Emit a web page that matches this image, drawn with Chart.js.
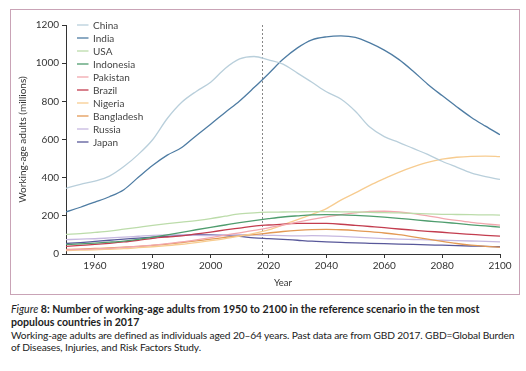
<!DOCTYPE html>
<html><head><meta charset="utf-8">
<script src="https://cdn.jsdelivr.net/npm/chart.js@4"></script>
<style>
html,body{margin:0;padding:0;background:#fff;width:526px;height:371px;overflow:hidden;}
#frame{position:absolute;left:10px;top:9px;width:508px;height:284px;border:1px solid #c9a3b6;}
#wrap{position:absolute;left:0;top:0;width:526px;height:300px;}
#cap{position:absolute;left:11px;top:303px;width:514px;font-family:Lato,"Open Sans",sans-serif;color:#222;line-height:12.5px;}
#cap .t{font-weight:bold;font-size:10.6px;}
#cap .b{font-size:10.2px;letter-spacing:-0.13px;margin-top:0.5px;}
</style></head><body>
<div id="frame"></div>
<div id="wrap"><canvas id="c" width="526" height="300"></canvas></div>
<div id="cap"><div class="t"><i style="font-weight:normal">Figure</i> 8: Number of working-age adults from 1950 to 2100 in the reference scenario in the ten most populous countries in 2017</div><div class="b">Working-age adults are defined as individuals aged 20–64 years. Past data are from GBD 2017. GBD=Global Burden of Diseases, Injuries, and Risk Factors Study.</div></div>
<script>
const years = [1950,1955,1960,1965,1970,1975,1980,1985,1990,1995,2000,2005,2010,2015,2020,2025,2030,2035,2040,2045,2050,2055,2060,2065,2070,2075,2080,2085,2090,2095,2100];
const countries = ["China","India","USA","Indonesia","Pakistan","Brazil","Nigeria","Bangladesh","Russia","Japan"];
const china = [344,365,382,408,458,522,600,710,795,852,900,972,1022,1035,1017,995,948,900,850,812,748,665,615,585,553,522,486,455,425,405,391];
const india = [221,245,272,300,337,402,465,518,558,620,680,742,802,872,945,1020,1080,1122,1138,1143,1135,1106,1068,1020,958,890,830,772,717,670,625];
const usa = [103,107,113,120,130,140,150,159,167,175,185,198,210,216,219,220,221,222,222,221,220,218,217,215,213,210,208,207,206,205,204];
const indonesia = [50,53,57,62,68,77,88,100,113,127,140,152,164,175,185,194,200,205,206,205,202,198,193,187,180,173,167,160,153,147,141];
const pakistan = [22,24,27,30,35,40,46,54,63,74,86,99,111,124,137,152,167,181,194,206,216,223,224,220,212,200,187,176,166,158,151];
const brazil = [40,45,50,56,63,72,82,89,95,105,115,126,136,146,152,157,160,161,160,156,150,144,138,131,125,119,114,108,103,98,94];
const nigeria = [18,20,22,25,28,33,38,44,51,60,70,81,94,108,126,152,180,208,238,282,320,360,395,428,456,480,497,507,512,513,510];
const bangladesh = [24,26,29,32,36,40,45,52,60,69,78,87,95,102,110,118,124,128,129,127,123,117,110,101,90,78,66,55,46,40,36];
const russia = [75,78,80,84,88,93,98,100,100,98,97,100,102,100,98,96,95,96,95,92,88,84,81,78,76,74,72,70,68,66,64];
const japan = [55,60,66,72,78,83,88,93,98,101,100,97,92,85,81,77,72,67,64,61,58,56,54,52,50,48,46,44,42,40,38];
const seriesValues = [china,india,usa,indonesia,pakistan,brazil,nigeria,bangladesh,russia,japan];
const colors = ["#b9cfdb","#4e7ca3","#bcdcaa","#4f9d6e","#f2a7ae","#c33d4f","#f7cc90","#e39a55","#c6b8e0","#58589a"];
const xTicks = [1960,1980,2000,2020,2040,2060,2080,2100];
const yTicks = [0,200,400,600,800,1000,1200];
const projectionStart = 2017.6;

const FONT = 'Lato, "Open Sans", sans-serif';
const datasets = countries.map((name,i)=>({
  label:name,
  data: years.map((y,j)=>({x:y,y:seriesValues[i][j]})),
  borderColor: colors[i],
  backgroundColor: colors[i],
  borderWidth: 1.3,
  pointRadius: 0,
  cubicInterpolationMode: 'monotone',
  fill:false
}));
const legendPlugin = {
  id:'customLegend',
  afterDraw(chart){
    const ctx = chart.ctx;
    ctx.save();
    ctx.font = '10px ' + FONT;
    ctx.textBaseline = 'middle';
    chart.data.datasets.forEach((ds,i)=>{
      const y = 25 + i*13.0;
      ctx.strokeStyle = ds.borderColor;
      ctx.lineWidth = 1.3;
      ctx.beginPath(); ctx.moveTo(77,y); ctx.lineTo(88.5,y); ctx.stroke();
      ctx.fillStyle = '#444';
      ctx.fillText(ds.label, 93, y+0.5);
    });
    ctx.restore();
  }
};
const dashPlugin = {
  id:'dash',
  beforeDatasetsDraw(chart){
    const x = chart.scales.x.getPixelForValue(projectionStart);
    const yt = chart.scales.y.getPixelForValue(1200);
    const yb = chart.scales.y.getPixelForValue(0);
    const ctx = chart.ctx;
    ctx.save();
    ctx.strokeStyle = '#888';
    ctx.lineWidth = 1;
    ctx.setLineDash([2,2]);
    ctx.beginPath(); ctx.moveTo(Math.round(x)+0.5,yt); ctx.lineTo(Math.round(x)+0.5,yb); ctx.stroke();
    ctx.restore();
  }
};
new Chart(document.getElementById('c'),{
  type:'line',
  data:{datasets},
  options:{
    responsive:false,
    animation:false,
    events:[],
    layout:{padding:{top:25,right:26,left:0,bottom:11}},
    plugins:{legend:{display:false},tooltip:{enabled:false}},
    scales:{
      x:{
        type:'linear', min:1950, max:2100,
        afterBuildTicks(s){ s.ticks = xTicks.map(v=>({value:v})); },
        afterFit(s){ s.height = 35; },
        grid:{display:true,drawOnChartArea:false,drawTicks:true,tickLength:4,color:'#333',lineWidth:1},
        border:{display:true,color:'#333',width:1},
        ticks:{color:'#333',font:{family:FONT,size:10},padding:2,maxRotation:0,autoSkip:false,callback:v=>String(v)},
        title:{display:true,text:'Year',color:'#333',font:{family:FONT,size:9.5},padding:{top:0,bottom:0}}
      },
      y:{
        min:0,max:1200,
        afterBuildTicks(s){ s.ticks = yTicks.map(v=>({value:v})); },
        afterFit(s){ s.width = 66; },
        grid:{display:true,drawOnChartArea:false,drawTicks:true,tickLength:4,color:'#333',lineWidth:1},
        border:{display:true,color:'#333',width:1},
        ticks:{color:'#333',font:{family:FONT,size:10},padding:3,callback:v=>String(v)},
        title:{display:true,text:'Working-age adults (millions)',color:'#333',font:{family:FONT,size:10},padding:{top:17,bottom:0}}
      }
    }
  },
  plugins:[legendPlugin,dashPlugin]
});
</script>
</body></html>
